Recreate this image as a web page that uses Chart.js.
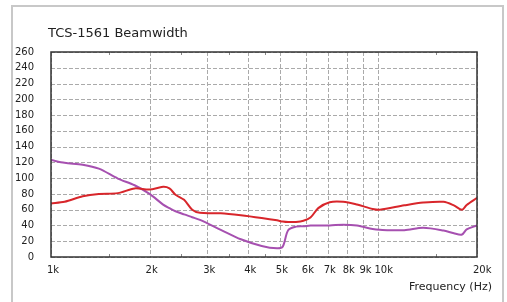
<!DOCTYPE html>
<html>
<head>
<meta charset="utf-8">
<script src="https://cdn.jsdelivr.net/npm/chart.js@4"></script>
<style>
    body { margin: 0; background: #fff; }
    #frame { position: absolute; left: 11px; top: 5px; width: 489px; height: 400px; border: 2px solid #c8c8c8; }
    #wrap { position: absolute; left: 0; top: 0; width: 507px; height: 302px; overflow: hidden; }
    canvas { position: absolute; left: 0; top: 0; }
</style>
</head>
<body>
<div id="wrap">
    <div id="frame"></div>
    <canvas id="chart" width="507" height="302"></canvas>
</div>
<script>
// frequencies (Hz) shared by both curves
const freqs = [1000, 1100, 1250, 1400, 1600, 1800, 2000, 2200, 2300, 2400, 2550, 2700, 2850,
    3300, 3800, 4400, 4900, 5100, 5300, 5600, 5900, 6200, 6550, 7100, 7800, 8600, 9600,
    10100, 12000, 13700, 15800, 17000, 18000, 18600, 20000];

const horizontal = [68, 70, 77, 80, 81, 87, 85.5, 89, 87, 79, 72.5, 60, 56,
    55.5, 53, 49.5, 46.5, 45, 44.3, 44.5, 46, 50, 62, 69.5, 70, 66.5, 61,
    60, 65.5, 69, 70, 65.5, 60, 66, 75];

const vertical = [123, 119.5, 117, 112, 99.5, 91, 80, 66.5, 62, 58, 54, 50.5, 47,
    34.5, 22.5, 14, 11, 13, 34, 38.5, 39, 40, 40, 40, 41, 40, 35.5,
    34.5, 34, 37, 33.5, 30, 28.5, 35, 40];

const majorTicks = [1000, 2000, 3000, 4000, 5000, 6000, 7000, 8000, 9000, 10000, 20000];
const minorTicks = [1500, 2500, 3500, 4500, 15000];

const FONT = "'DejaVu Sans', Verdana, sans-serif";

const toPoints = ys => freqs.map((f, i) => ({x: f, y: ys[i]}));

// dashed grid drawn under the curves
const dashedGrid = {
    id: 'dashedGrid',
    beforeDatasetsDraw(chart) {
        const ctx = chart.ctx;
        const a = chart.chartArea;
        ctx.save();
        ctx.strokeStyle = '#aaaaaa';
        ctx.lineWidth = 1;
        ctx.setLineDash([4, 2]);
        chart.scales.y.ticks.forEach(t => {
            const py = Math.round(chart.scales.y.getPixelForValue(t.value)) + 0.5;
            ctx.beginPath(); ctx.moveTo(a.left, py); ctx.lineTo(a.right, py); ctx.stroke();
        });
        majorTicks.forEach(v => {
            const px = Math.round(chart.scales.x.getPixelForValue(v)) + 0.5;
            ctx.beginPath(); ctx.moveTo(px, a.top); ctx.lineTo(px, a.bottom); ctx.stroke();
        });
        ctx.restore();
    }
};

// frame, minor tick marks and the two titles
const extras = {
    id: 'extras',
    afterDraw(chart) {
        const ctx = chart.ctx;
        const a = chart.chartArea;
        const xs = chart.scales.x;
        ctx.save();
        ctx.strokeStyle = '#888';
        ctx.lineWidth = 1;
        minorTicks.forEach(v => {
            const px = Math.round(xs.getPixelForValue(v)) + 0.5;
            ctx.beginPath();
            ctx.moveTo(px, a.top); ctx.lineTo(px, a.top + 3);
            ctx.moveTo(px, a.bottom); ctx.lineTo(px, a.bottom - 3);
            ctx.stroke();
        });
        ctx.strokeStyle = '#333';
        ctx.lineWidth = 1.5;
        ctx.strokeRect(a.left, a.top, a.right - a.left, a.bottom - a.top);

        ctx.fillStyle = '#222';
        ctx.textBaseline = 'middle';
        ctx.font = '13px ' + FONT;
        ctx.textAlign = 'left';
        ctx.fillText('TCS-1561 Beamwidth', 48, 34);
        ctx.font = '11px ' + FONT;
        ctx.textAlign = 'right';
        ctx.fillText('Frequency (Hz)', 492, 287);
        ctx.restore();
    }
};

new Chart(document.getElementById('chart'), {
    type: 'line',
    data: {
        datasets: [{
            data: toPoints(horizontal),
            borderColor: '#d8262b',
            borderWidth: 2,
            pointRadius: 0,
            tension: 0.3
        }, {
            data: toPoints(vertical),
            borderColor: '#a650b0',
            borderWidth: 2,
            pointRadius: 0,
            tension: 0.3
        }]
    },
    options: {
        responsive: false,
        animation: false,
        layout: {padding: {top: 52, right: 30, left: 0, bottom: 0}},
        plugins: {legend: {display: false}, title: {display: false}, tooltip: {enabled: false}},
        scales: {
            x: {
                type: 'logarithmic',
                min: 1000,
                max: 20000,
                afterBuildTicks: s => { s.ticks = majorTicks.map(v => ({value: v})); },
                afterFit: s => { s.height = 45; },
                grid: {display: false},
                border: {display: false},
                ticks: {
                    autoSkip: false,
                    maxRotation: 0,
                    align: 'start',
                    labelOffset: -4,
                    padding: -1,
                    color: '#222',
                    font: {family: FONT, size: 10},
                    callback: v => (v / 1000) + 'k'
                }
            },
            y: {
                min: 0,
                max: 260,
                afterFit: s => { s.width = 51; },
                grid: {display: false},
                border: {display: false},
                ticks: {
                    stepSize: 20,
                    padding: 9,
                    color: '#222',
                    font: {family: FONT, size: 10}
                }
            }
        }
    },
    plugins: [dashedGrid, extras]
});
</script>
</body>
</html>
